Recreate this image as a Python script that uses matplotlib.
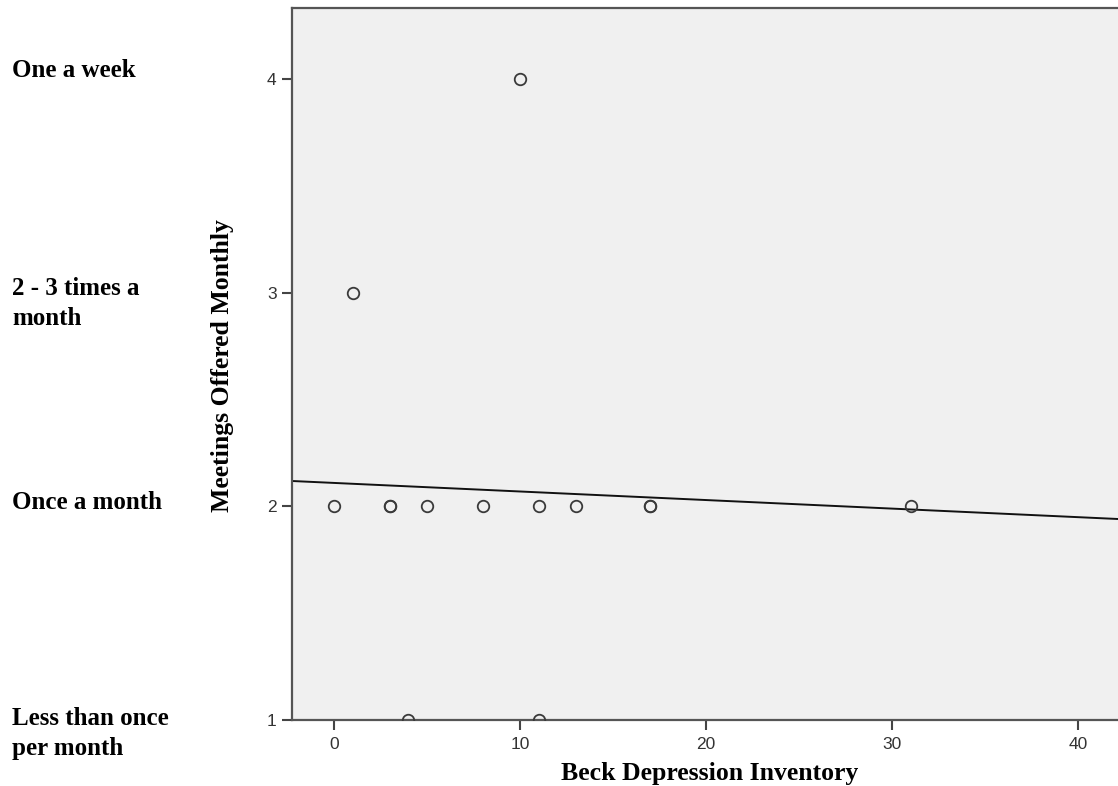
import numpy as np
import matplotlib
matplotlib.use("Agg")
import matplotlib.pyplot as plt

# Data
bdi = [10, 1, 0, 3, 3, 5, 8, 11, 13, 17, 17, 31, 4, 11]
meetings = [4, 3, 2, 2, 2, 2, 2, 2, 2, 2, 2, 2, 1, 1]
x_ticks = [0, 10, 20, 30, 40]
y_ticks = [1, 2, 3, 4]
category_labels = ["Less than once\nper month", "Once a month", "2 - 3 times a\nmonth", "One a week"]

serif = ["Liberation Serif", "DejaVu Serif"]
sans = ["Liberation Sans", "DejaVu Sans"]

W, H = 1118, 786
fig = plt.figure(figsize=(W / 100, H / 100), dpi=100)
ax = fig.add_axes([292 / W, 1 - 720 / H, 1 - 292 / W, (720 - 8) / H])
ax.set_facecolor("#f0f0f0")

xlim = (-2.26, 42.15)
ylim = (1.0, 4.333)
ax.set_xlim(*xlim)
ax.set_ylim(*ylim)

# regression line
slope, intercept = np.polyfit(bdi, meetings, 1)
xs = np.array(xlim)
ax.plot(xs, intercept + slope * xs, color="#111111", lw=1.4, zorder=2)

ax.plot(bdi, meetings, linestyle="none", marker="o", markersize=8.3,
        markerfacecolor="none", markeredgecolor="#3a3a3a", markeredgewidth=1.3,
        zorder=3, clip_on=True)

ax.spines["right"].set_visible(False)
for s in ["top", "left", "bottom"]:
    ax.spines[s].set_color("#555555")
    ax.spines[s].set_linewidth(1.6)

ax.set_xticks(x_ticks)
ax.set_yticks(y_ticks)
ax.tick_params(axis="both", direction="out", length=7, width=1.5, color="#444444",
               labelsize=12.5, labelcolor="#333333")
ax.tick_params(axis="x", pad=5)
ax.tick_params(axis="y", pad=4)
for lab in ax.get_xticklabels() + ax.get_yticklabels():
    lab.set_fontfamily(sans)

# axis titles
fig.text(710 / W, 1 - 780 / H, "Beck Depression Inventory", ha="center", va="baseline",
         fontsize=18.5, fontweight="bold", family=serif)
fig.text(222 / W, 1 - 366 / H, "Meetings Offered Monthly", ha="center", va="center",
         rotation=90, fontsize=18.5, fontweight="bold", family=serif)

# category labels at left of figure (first-line baselines, in pixels)
label_baseline_px = [725, 509, 295, 77]
line_gap_px = 30
for lab, ypx in zip(category_labels, label_baseline_px):
    for i, line in enumerate(lab.split("\n")):
        fig.text(12 / W, 1 - (ypx + i * line_gap_px) / H, line, ha="left", va="baseline",
                 fontsize=18, fontweight="bold", family=serif)

fig.savefig("out.png", dpi=100)
